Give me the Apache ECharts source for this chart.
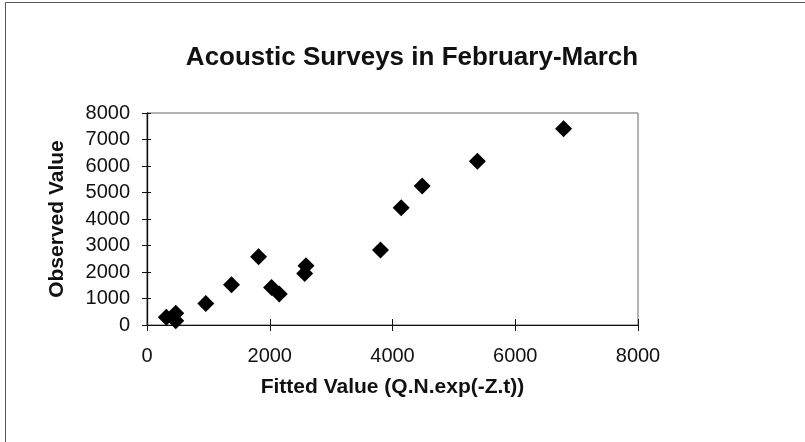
<!DOCTYPE html>
<html>
<head>
<meta charset="utf-8">
<script src="https://cdn.jsdelivr.net/npm/echarts@6/dist/echarts.min.js"></script>
<style>
  html, body { margin: 0; padding: 0; background: #fff; }
  #chart { width: 805px; height: 442px; }
</style>
</head>
<body>
<div id="chart"></div>
<script>
const fitted = [315, 468, 468, 958, 1377, 1818, 2030, 2155, 2569, 2591, 3804, 4142, 4484, 5383, 6787];
const observed = [290, 440, 162, 816, 1517, 2571, 1418, 1166, 1945, 2232, 2834, 4428, 5243, 6183, 7401];
const xTicks = [0, 2000, 4000, 6000, 8000];
const yTicks = [0, 1000, 2000, 3000, 4000, 5000, 6000, 7000, 8000];

const font = "'Liberation Sans', Arial, sans-serif";
const chart = echarts.init(document.getElementById("chart"));

const points = fitted.map((x, i) => [x, observed[i]]);

const baseAxis = {
  type: "value",
  axisLine: { show: true, lineStyle: { color: "#111", width: 1.2 } },
  splitLine: { show: false },
};
const plain = (v) => String(v);

chart.setOption({
  backgroundColor: "#fff",
  animation: false,
  title: {
    text: "Acoustic Surveys in February-March",
    left: 407,
    top: 40,
    textAlign: "center",
    textStyle: { fontFamily: font, fontSize: 26, fontWeight: "bold", color: "#111" },
  },
  grid: {
    left: 147,
    top: 113,
    width: 491,
    height: 212,
    show: true,
    borderColor: "#666",
    borderWidth: 1,
    backgroundColor: "transparent",
  },
  xAxis: [
    {
      ...baseAxis,
      min: xTicks[0],
      max: xTicks[xTicks.length - 1],
      interval: 2000,
      name: "Fitted Value (Q.N.exp(-Z.t))",
      nameLocation: "middle",
      nameGap: 52,
      nameTextStyle: { fontFamily: font, fontSize: 21, fontWeight: "bold", color: "#111" },
      axisTick: { show: true, length: 6, lineStyle: { color: "#111" } },
      axisLabel: { fontFamily: font, fontSize: 20, color: "#111", margin: 21, formatter: plain },
    },
    {
      ...baseAxis,
      position: "bottom",
      min: xTicks[0],
      max: xTicks[xTicks.length - 1],
      interval: 2000,
      axisTick: { show: true, inside: true, length: 6, lineStyle: { color: "#111" } },
      axisLabel: { show: false },
    },
  ],
  yAxis: [
    {
      ...baseAxis,
      min: yTicks[0],
      max: yTicks[yTicks.length - 1],
      interval: 1000,
      name: "Observed Value",
      nameLocation: "middle",
      nameGap: 79,
      nameTextStyle: { fontFamily: font, fontSize: 21, fontWeight: "bold", color: "#111" },
      axisTick: { show: true, length: 5, lineStyle: { color: "#111" } },
      axisLabel: { fontFamily: font, fontSize: 20, color: "#111", margin: 17, formatter: plain },
    },
    {
      ...baseAxis,
      position: "left",
      min: yTicks[0],
      max: yTicks[yTicks.length - 1],
      interval: 1000,
      axisTick: { show: true, inside: true, length: 4, lineStyle: { color: "#111" } },
      axisLabel: { show: false },
    },
  ],
  graphic: [
    {
      type: "rect",
      shape: { x: 5.5, y: 2.5, width: 900, height: 600 },
      style: { fill: "none", stroke: "#555", lineWidth: 1 },
      silent: true,
    },
  ],
  series: [
    {
      type: "scatter",
      data: points,
      symbol: "diamond",
      symbolSize: [17, 17],
      itemStyle: { color: "#000", opacity: 1 },
    },
  ],
});
</script>
</body>
</html>
